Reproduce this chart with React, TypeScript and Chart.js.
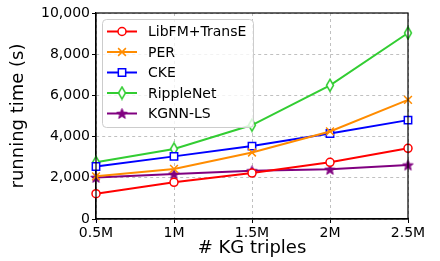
import React, { useEffect, useRef } from "react";
import { Chart, registerables } from "chart.js";
import { drawPoint } from "chart.js/helpers";

Chart.register(...registerables);

const categories = ["0.5M", "1M", "1.5M", "2M", "2.5M"];
const libfm = [1230, 1780, 2230, 2750, 3430];
const per = [2070, 2430, 3230, 4250, 5780];
const cke = [2550, 3040, 3540, 4150, 4800];
const ripple = [2750, 3400, 4560, 6490, 9030];
const kgnn = [2020, 2180, 2340, 2410, 2620];
const yTicks = [0, 2000, 4000, 6000, 8000, 10000];

const FONT = "'DejaVu Sans', sans-serif";

function makeDiamond(color: string) {
  const c = document.createElement("canvas");
  const w = 10, h = 15;
  c.width = w; c.height = h;
  const ctx = c.getContext("2d")!;
  ctx.beginPath();
  ctx.moveTo(w / 2, 1.5);
  ctx.lineTo(w - 1.5, h / 2);
  ctx.lineTo(w / 2, h - 1.5);
  ctx.lineTo(1.5, h / 2);
  ctx.closePath();
  ctx.fillStyle = "white";
  ctx.fill();
  ctx.lineWidth = 1.5;
  ctx.strokeStyle = color;
  ctx.stroke();
  return c;
}

function makeStar(color: string) {
  const c = document.createElement("canvas");
  const s = 13;
  c.width = s; c.height = s;
  const ctx = c.getContext("2d")!;
  const cx = s / 2, cy = s / 2 + 0.5;
  const R = 5.5, r = 2.3;
  ctx.beginPath();
  for (let i = 0; i < 10; i++) {
    const ang = -Math.PI / 2 + (i * Math.PI) / 5;
    const rad = i % 2 === 0 ? R : r;
    const px = cx + rad * Math.cos(ang);
    const py = cy + rad * Math.sin(ang);
    if (i === 0) ctx.moveTo(px, py); else ctx.lineTo(px, py);
  }
  ctx.closePath();
  ctx.fillStyle = color;
  ctx.fill();
  ctx.lineWidth = 1;
  ctx.strokeStyle = color;
  ctx.stroke();
  return c;
}

export default function App() {
  const ref = useRef<HTMLCanvasElement>(null);

  useEffect(() => {
    const canvas = ref.current!;
    const red = "#ff0000";
    const orange = "#ff8c00";
    const blue = "#0000ff";
    const green = "#32cd32";
    const purple = "#800080";
    const diamond = makeDiamond(green);
    const star = makeStar(purple);

    const datasets: any[] = [
      { label: "LibFM+TransE", data: libfm, borderColor: red, backgroundColor: "white", pointStyle: "circle", pointRadius: 4, pointBorderWidth: 1.5 },
      { label: "PER", data: per, borderColor: orange, backgroundColor: "white", pointStyle: "crossRot", pointRadius: 5.5, pointBorderWidth: 1.5 },
      { label: "CKE", data: cke, borderColor: blue, backgroundColor: "white", pointStyle: "rect", pointRadius: 5.2, pointBorderWidth: 1.5 },
      { label: "RippleNet", data: ripple, borderColor: green, backgroundColor: "white", pointStyle: diamond, pointRadius: 6 },
      { label: "KGNN-LS", data: kgnn, borderColor: purple, backgroundColor: purple, pointStyle: star, pointRadius: 6 },
    ].map((d) => ({ ...d, borderWidth: 2, tension: 0, pointHoverRadius: d.pointRadius }));

    const framePlugin = {
      id: "frame",
      afterDraw(chart: any) {
        const { ctx, chartArea: a } = chart;
        ctx.save();
        ctx.strokeStyle = "#000";
        ctx.lineWidth = 1.2;
        ctx.strokeRect(a.left, a.top, a.right - a.left, a.bottom - a.top);
        // legend
        const bx = a.left + 6, by = a.top + 6, bw = 151, bh = 108;
        ctx.beginPath();
        (ctx as any).roundRect(bx + 0.5, by + 0.5, bw, bh, 4);
        ctx.fillStyle = "rgba(255,255,255,0.8)";
        ctx.fill();
        ctx.strokeStyle = "#cccccc";
        ctx.lineWidth = 1;
        ctx.stroke();
        ctx.font = `14px ${FONT}`;
        ctx.textBaseline = "middle";
        ctx.textAlign = "left";
        chart.data.datasets.forEach((ds: any, i: number) => {
          const y = by + 12.5 + i * 20.5;
          const x0 = bx + 5, x1 = bx + 35;
          ctx.beginPath();
          ctx.moveTo(x0, y);
          ctx.lineTo(x1, y);
          ctx.strokeStyle = ds.borderColor;
          ctx.lineWidth = 2;
          ctx.stroke();
          ctx.fillStyle = ds.backgroundColor;
          ctx.strokeStyle = ds.borderColor;
          ctx.lineWidth = ds.pointBorderWidth || 1.5;
          drawPoint(ctx, { pointStyle: ds.pointStyle, radius: ds.pointRadius, borderWidth: ds.pointBorderWidth || 1.5, rotation: 0 } as any, (x0 + x1) / 2, y);
          ctx.fillStyle = "#000";
          ctx.fillText(ds.label, bx + 46, y + 1);
        });
        ctx.restore();
      },
    };

    const chart = new Chart(canvas, {
      type: "line",
      data: { labels: categories, datasets },
      options: {
        animation: false,
        responsive: false,
        devicePixelRatio: 1,
        layout: { padding: { left: 0, right: 32, top: 13, bottom: 0 } },
        plugins: { legend: { display: false }, tooltip: { enabled: false } },
        scales: {
          x: {
            type: "category",
            offset: false,
            grid: { color: "#b0b0b0", lineWidth: 0.8, tickColor: "#000", tickLength: 4, tickWidth: 1, tickBorderDash: [] },
            border: { display: true, color: "#000", width: 1.2, dash: [3, 3] },
            ticks: { color: "#000", font: { family: FONT, size: 14 }, padding: 2, maxRotation: 0, autoSkip: false },
            title: { display: true, text: "# KG triples", color: "#000", font: { family: FONT, size: 18 }, padding: { top: 0, bottom: 2 } },
            afterFit: (s: any) => { s.height = 42; },
          },
          y: {
            min: 0,
            max: 10000,
            afterBuildTicks: (s: any) => { s.ticks = yTicks.map((v) => ({ value: v })); },
            grid: { color: "#b0b0b0", lineWidth: 0.8, tickColor: "#000", tickLength: 4, tickWidth: 1, tickBorderDash: [] },
            border: { display: true, color: "#000", width: 1.2, dash: [3, 3] },
            ticks: { color: "#000", font: { family: FONT, size: 14 }, padding: 2, callback: (v: any) => Number(v).toLocaleString("en-US") },
            title: { display: true, text: "running time (s)", color: "#000", font: { family: FONT, size: 18 }, padding: { top: 8, bottom: 0 } },
            afterFit: (s: any) => { s.width = 96; },
          },
        },
      },
      plugins: [framePlugin],
    } as any);
    return () => chart.destroy();
  }, []);

  return (
    <div style={{ position: "fixed", left: 0, top: 0, width: 440, height: 261, background: "white" }}>
      <canvas ref={ref} width={440} height={261} style={{ width: 440, height: 261 }} />
    </div>
  );
}
